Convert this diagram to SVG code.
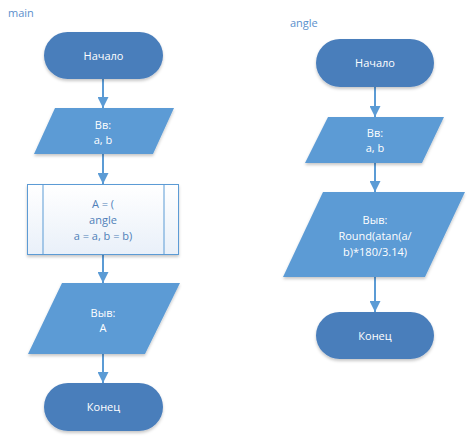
<svg xmlns="http://www.w3.org/2000/svg" width="475" height="441" viewBox="0 0 475 441">
<defs>
<style>
text{font-family:"Open Sans","Noto Sans","Liberation Sans",sans-serif;font-size:11px;text-anchor:middle}
.t{fill:#4a7ebb}
.io{fill:#5b9bd5}
.wt{fill:#ffffff}
.bt{fill:#4f7fb8}
.lbl{fill:#5b8fcc;text-anchor:start}
.proc{fill:url(#pg);stroke:#5b9bd5;stroke-width:1}
.conn{stroke:#5b9bd5;stroke-width:2;fill:none;marker-end:url(#ah)}
.sh{filter:url(#ds)}
</style>
<linearGradient id="pg" x1="0" y1="0" x2="0" y2="1">
<stop offset="0" stop-color="#ffffff"/>
<stop offset="1" stop-color="#e9f0f9"/>
</linearGradient>
<filter id="ds" x="-20%" y="-20%" width="140%" height="150%">
<feDropShadow dx="0" dy="2" stdDeviation="1.8" flood-color="#000" flood-opacity="0.22"/>
</filter>
<marker id="ah" markerUnits="userSpaceOnUse" markerWidth="11" markerHeight="11" refX="11" refY="5.5" orient="auto">
<path d="M0,0 L11,5.5 L0,11 z" fill="#5b9bd5"/>
</marker>
</defs>
<rect width="475" height="441" fill="#ffffff"/>
<text class="lbl" x="8" y="17">main</text>
<text class="lbl" x="290" y="27">angle</text>
<g id="connectors">
<line class="conn" x1="103" y1="79" x2="103" y2="108"/>
<line class="conn" x1="103" y1="154" x2="103" y2="184"/>
<line class="conn" x1="103" y1="255" x2="103" y2="283"/>
<line class="conn" x1="103" y1="354" x2="103" y2="383"/>
<line class="conn" x1="375" y1="87" x2="375" y2="117"/>
<line class="conn" x1="375" y1="163" x2="375" y2="192"/>
<line class="conn" x1="375" y1="277" x2="375" y2="312"/>
</g>
<g id="main-start">
<rect class="t sh" x="44" y="32" width="119" height="47" rx="23.5"/>
<text class="wt" x="103.5" y="59.5">Начало</text>
</g>
<g id="main-input">
<polygon class="io sh" points="55,108 174,108 153,154 34,154"/>
<text class="wt" x="103" y="129">Вв:</text>
<text class="wt" x="103" y="144">a, b</text>
</g>
<g id="main-call">
<rect class="proc sh" x="27.5" y="184.5" width="151" height="70"/>
<line x1="43" y1="184.5" x2="43" y2="254.5" stroke="#5b9bd5" stroke-width="1"/>
<line x1="164" y1="184.5" x2="164" y2="254.5" stroke="#5b9bd5" stroke-width="1"/>
<text class="bt" x="103" y="208">A = (</text>
<text class="bt" x="103" y="224">angle</text>
<text class="bt" x="103" y="240">a = a, b = b)</text>
</g>
<g id="main-output">
<polygon class="io sh" points="62,283 180,283 145,354 28,354"/>
<text class="wt" x="103" y="317">Выв:</text>
<text class="wt" x="103" y="332">A</text>
</g>
<g id="main-end">
<rect class="t sh" x="44" y="383" width="119" height="48" rx="24"/>
<text class="wt" x="103.5" y="411">Конец</text>
</g>
<g id="angle-start">
<rect class="t sh" x="316" y="39" width="118" height="48" rx="24"/>
<text class="wt" x="375" y="67">Начало</text>
</g>
<g id="angle-input">
<polygon class="io sh" points="328,117 444,117 422,163 305,163"/>
<text class="wt" x="375" y="137">Вв:</text>
<text class="wt" x="375" y="152">a, b</text>
</g>
<g id="angle-output">
<polygon class="io sh" points="323,192 465,192 425,277 283,277"/>
<text class="wt" x="375" y="224">Выв:</text>
<text class="wt" x="375" y="240">Round(atan(a/</text>
<text class="wt" x="375" y="256">b)*180/3.14)</text>
</g>
<g id="angle-end">
<rect class="t sh" x="316" y="312" width="118" height="47" rx="23.5"/>
<text class="wt" x="375" y="340">Конец</text>
</g>
</svg>
